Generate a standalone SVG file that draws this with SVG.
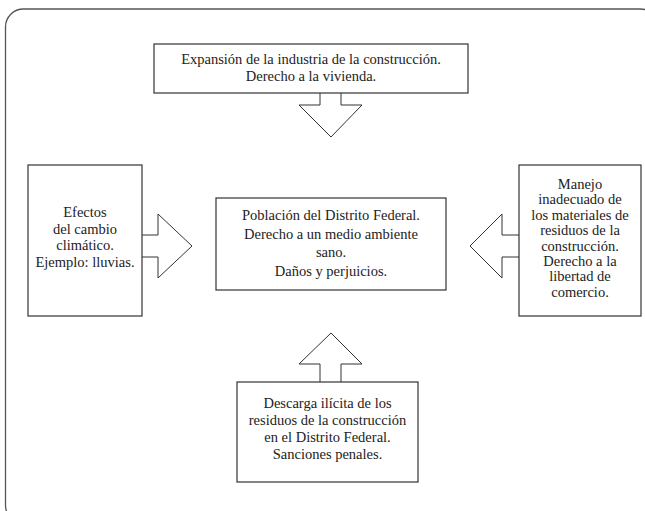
<svg xmlns="http://www.w3.org/2000/svg" width="645" height="511" viewBox="0 0 645 511">
<style>
.box{fill:#fff;stroke:#333;stroke-width:1.2}
.arr{fill:#fff;stroke:#333;stroke-width:1}
text{font-family:"Liberation Serif","Times New Roman",serif;font-size:14.5px;fill:#222;text-anchor:middle}
</style>
<rect x="5.5" y="9" width="653" height="514" rx="18" fill="#fff" stroke="#555" stroke-width="1.3"/>
<g id="connectors">
<polyline class="arr" points="320,93 320,105 299,105 331,137 362,105 341,105 341,93"/>
<polyline class="arr" points="142,235 158,235 158,214 192,246 158,278 158,257 142,257"/>
<polyline class="arr" points="519,235 502,235 502,214 470,246 502,278 502,257 519,257"/>
<polyline class="arr" points="320,382 320,364 299,364 331,333 362,364 341,364 341,382"/>
</g>
<g id="top">
<rect class="box" x="154" y="44" width="314" height="49"/>
<text x="311" y="64">Expansión de la industria de la construcción.</text>
<text x="311" y="81">Derecho a la vivienda.</text>
</g>
<g id="left">
<rect class="box" x="28" y="165" width="114" height="151"/>
<text x="85" y="217">Efectos</text>
<text x="85" y="233.5">del cambio</text>
<text x="85" y="250">climático.</text>
<text x="85" y="266.5">Ejemplo: lluvias.</text>
</g>
<g id="center">
<rect class="box" x="216" y="198" width="230" height="92"/>
<text x="331" y="220">Población del Distrito Federal.</text>
<text x="331" y="239">Derecho a un medio ambiente</text>
<text x="331" y="257">sano.</text>
<text x="331" y="276">Daños y perjuicios.</text>
</g>
<g id="right">
<rect class="box" x="519" y="165" width="122" height="151"/>
<text x="580" y="189">Manejo</text>
<text x="580" y="204.4">inadecuado de</text>
<text x="580" y="219.8">los materiales de</text>
<text x="580" y="235.2">residuos de la</text>
<text x="580" y="250.6">construcción.</text>
<text x="580" y="266">Derecho a la</text>
<text x="580" y="281.4">libertad de</text>
<text x="580" y="296.8">comercio.</text>
</g>
<g id="bottom">
<rect class="box" x="237" y="382" width="181" height="100"/>
<text x="327.5" y="408">Descarga ilícita de los</text>
<text x="327.5" y="425">residuos de la construcción</text>
<text x="327.5" y="442">en el Distrito Federal.</text>
<text x="327.5" y="459">Sanciones penales.</text>
</g>
</svg>
